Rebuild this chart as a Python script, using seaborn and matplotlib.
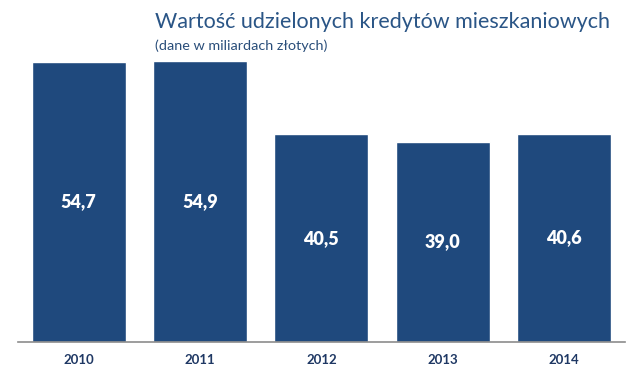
import seaborn as sns
import pandas as pd
import matplotlib.pyplot as plt

years = ["2010", "2011", "2012", "2013", "2014"]
values = [54.7, 54.9, 40.5, 39.0, 40.6]
labels = ["54,7", "54,9", "40,5", "39,0", "40,6"]

df = pd.DataFrame({"rok": years, "wartosc": values})

sns.set_theme(style="white")
plt.rcParams['font.family'] = ['Lato', 'DejaVu Sans']

fig = plt.figure(figsize=(6.39, 3.75), dpi=100)
ax = fig.add_axes([0.028, 0.088, 0.950, 0.779])

sns.barplot(data=df, x="rok", y="wartosc", color="#1F497D", saturation=1,
            width=0.775, ax=ax)

for i, (v, lab) in enumerate(zip(values, labels)):
    ax.text(i, v / 2, lab, ha="center", va="center", color="white",
            fontsize=13, fontweight="heavy")

ax.set_ylim(0, 57)
ax.set_xlim(-0.5, 4.5)
ax.set_xlabel("")
ax.set_ylabel("")
ax.set_yticks([])
ax.tick_params(axis="x", length=0, pad=9, labelsize=9.5, labelcolor="#1F3864")
for t in ax.get_xticklabels():
    t.set_fontweight("bold")
for s in ["top", "right", "left"]:
    ax.spines[s].set_visible(False)
ax.spines["bottom"].set_color("#8C8C8C")
ax.spines["bottom"].set_linewidth(1.2)

fig.text(0.2425, 0.940, "Wartość udzielonych kredytów mieszkaniowych",
         color="#2A5586", fontsize=15.5, ha="left", va="center")
fig.text(0.2425, 0.877, "(dane w miliardach złotych)",
         color="#2A4E7A", fontsize=10.4, ha="left", va="center")

plt.savefig("out.png", dpi=100)
